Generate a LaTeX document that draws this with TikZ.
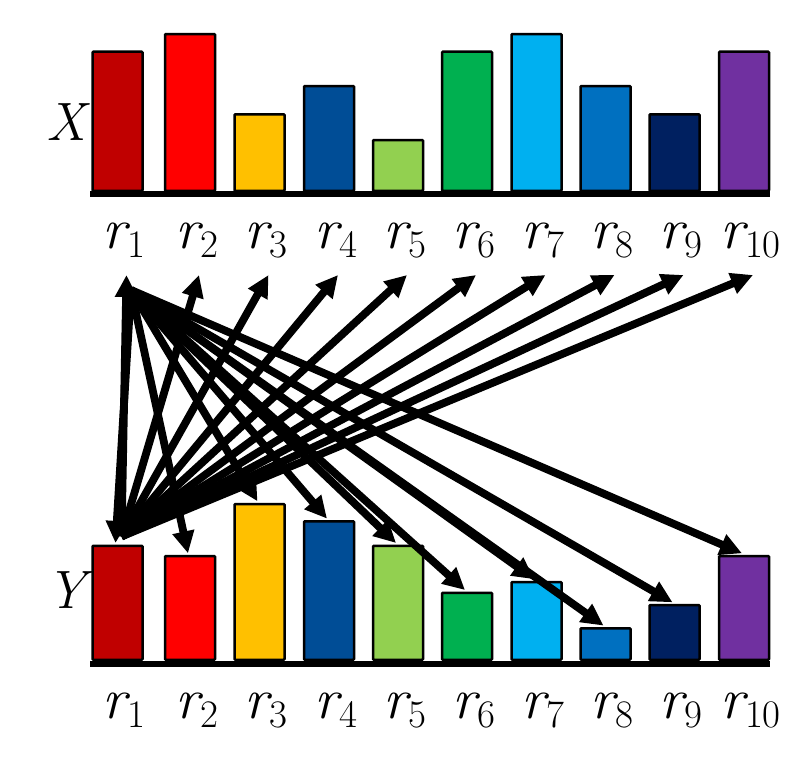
\documentclass[tikz,border=0pt]{standalone}
\usetikzlibrary{arrows.meta,calc}
\definecolor{c1}{RGB}{192,0,0}
\definecolor{c2}{RGB}{255,0,0}
\definecolor{c3}{RGB}{255,192,0}
\definecolor{c4}{RGB}{0,77,150}
\definecolor{c5}{RGB}{146,208,80}
\definecolor{c6}{RGB}{0,176,80}
\definecolor{c7}{RGB}{0,176,240}
\definecolor{c8}{RGB}{0,112,192}
\definecolor{c9}{RGB}{0,32,96}
\definecolor{c10}{RGB}{112,48,160}
\newcommand{\rsubx}[1]{{\itshape r}\kern1pt\raisebox{-9pt}{\fontsize{39}{42}\selectfont #1}}
\begin{document}
\begin{tikzpicture}[x=1pt,y=-1pt,
  bar/.style={draw=black, line width=2.5pt, minimum width=50pt, inner sep=0pt, anchor=south west, rounded corners=0.8pt},
  lbl/.style={inner sep=0pt, anchor=base, font=\fontsize{58}{62}\selectfont},
  side/.style={inner sep=0pt, anchor=base, font=\fontsize{54}{60}\selectfont\itshape},
  axisline/.style={line width=6pt},
  conn/.style={line width=7.8pt, -{Triangle[length=22pt,width=21pt]}}]
\useasboundingbox (0,0) rectangle (803,757);
% X bars
\foreach \i/\L/\h in {1/90/139, 2/162.5/156.7, 3/232/76.4, 4/301.5/104.7, 5/370.5/50.7, 6/439.5/139, 7/509/156.7, 8/578/104.7, 9/647/76.4, 10/716.5/139}{
  \node[bar, fill=c\i, minimum height=\h pt] (xb\i) at (\L+1.25,192) {};
  \node[lbl] (xl\i) at (\L+34,248) {\rsubx{\i}};
}
% Y bars
\foreach \i/\L/\h in {1/90/114, 2/162.5/103.7, 3/232/155.7, 4/301.5/138.4, 5/370.5/114, 6/439.5/67, 7/509/77.7, 8/578/31.4, 9/647/54.7, 10/716.5/103.7}{
  \node[bar, fill=c\i, minimum height=\h pt] (yb\i) at (\L+1.25,661) {};
  \node[lbl] (yl\i) at (\L+34,718) {\rsubx{\i}};
}
% axes
\coordinate (xa0) at (90,194);
\coordinate (xa1) at (769.5,194);
\coordinate (ya0) at (90,663.5);
\coordinate (ya1) at (769.5,663.5);
\draw[axisline] (xa0) -- (xa1);
\draw[axisline] (ya0) -- (ya1);
% side labels
\node[side] (X) at (66,140) {X};
\node[side] (Y) at (66,608) {Y};
% arrow origins
\coordinate (Yo) at ($(yb1.north)+(4,-8)$);
\coordinate (Xo) at ($(xl1.base)+(7,42)$);
% arrows from Y r1 up to X labels
\foreach \i in {1,...,10}{
  \draw[conn] (Yo) -- ($(xl\i.base)+(2.5,27)$);
}
% arrows from X r1 down to Y bars
\foreach \i in {1,...,10}{
  \draw[conn] (Xo) -- ($(yb\i.north)+(-2,-1.5)$);
}
\end{tikzpicture}
\end{document}
